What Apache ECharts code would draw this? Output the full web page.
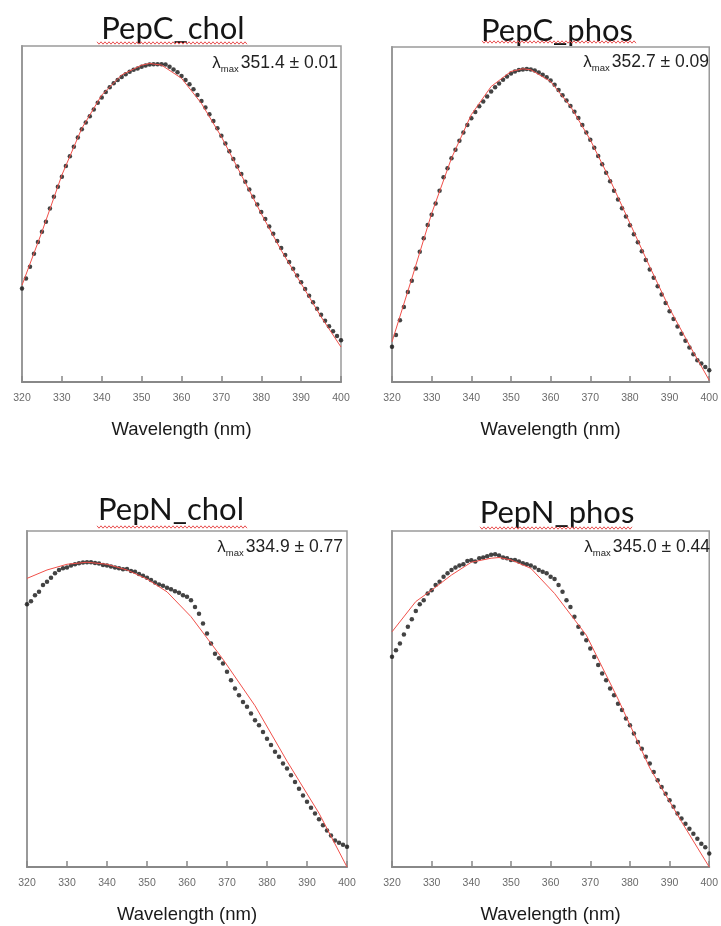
<!DOCTYPE html>
<html>
<head>
<meta charset="utf-8">
<script src="https://cdn.jsdelivr.net/npm/echarts@6/dist/echarts.min.js"></script>
<style>
  html, body { margin: 0; padding: 0; background: #fff; }
  #chart { width: 721px; height: 926px; }
</style>
</head>
<body>
<div id="chart"></div>
<script>
// wavelength of every measured point (nm)
const wavelength = [320,321,322,323,324,325,326,327,328,329,330,331,332,333,334,335,336,337,338,339,
  340,341,342,343,344,345,346,347,348,349,350,351,352,353,354,355,356,357,358,359,
  360,361,362,363,364,365,366,367,368,369,370,371,372,373,374,375,376,377,378,379,
  380,381,382,383,384,385,386,387,388,389,390,391,392,393,394,395,396,397,398,399,400];

// normalised fluorescence (0-100 of the plot height)
const pepCChol = [27.8,30.8,34.3,38.2,41.7,44.7,47.7,51.6,55.1,58.1,61.1,64.3,67.2,70.0,72.8,75.2,77.2,79.1,81.1,83.1,
  84.7,86.3,87.7,88.9,89.9,90.8,91.6,92.3,92.9,93.3,93.8,94.2,94.5,94.6,94.6,94.6,94.5,93.8,93.0,92.2,
  91.1,89.9,88.6,87.1,85.4,83.6,81.7,79.7,77.7,75.5,73.3,71.0,68.7,66.4,64.1,61.9,59.6,57.3,55.1,52.8,
  50.6,48.5,46.3,44.1,42.0,39.9,37.8,35.7,33.7,31.7,29.7,27.7,25.7,23.7,21.8,20.0,18.2,16.6,15.1,13.7,12.4];
const pepCPhos = [10.5,14.0,18.4,22.4,26.9,30.2,33.9,38.9,42.9,46.9,49.9,53.3,57.1,61.1,63.8,66.8,69.3,72.0,74.5,76.7,
  78.7,80.6,82.3,83.7,85.2,86.7,88.0,89.1,90.2,91.2,92.1,92.7,93.1,93.3,93.4,93.3,93.0,92.4,91.7,91.0,
  90.0,88.7,87.2,85.6,84.0,82.4,80.7,78.8,76.7,74.5,72.3,69.9,67.5,65.0,62.5,59.9,57.1,54.5,51.9,49.4,
  46.8,44.1,41.7,39.0,36.4,33.6,31.1,28.6,26.1,23.6,21.1,18.8,16.6,14.4,12.3,10.3,8.3,6.5,5.5,4.5,3.5];
const pepNChol = [78.2,79.1,80.9,81.9,83.9,84.9,86.1,87.4,88.4,88.9,89.1,89.7,90.1,90.4,90.6,90.7,90.7,90.5,90.3,89.9,
  89.7,89.4,89.1,88.9,88.6,88.7,88.1,87.9,87.2,86.7,86.1,85.4,84.7,84.1,83.7,83.1,82.7,82.1,81.6,80.9,
  80.4,79.4,77.4,75.4,72.5,69.5,66.5,63.5,62.1,60.6,58.1,55.6,53.1,51.1,49.1,47.7,45.7,43.7,42.2,40.2,
  38.2,36.3,34.3,32.8,30.8,29.3,27.3,25.3,23.3,21.3,19.4,17.6,15.9,14.2,12.4,10.9,9.4,7.9,7.2,6.6,6.0];
const pepNPhos = [62.6,64.5,66.5,69.2,71.5,73.7,76.2,78.2,79.4,81.4,82.4,83.9,84.9,86.4,87.4,88.4,89.1,89.7,90.1,91.1,
  91.3,90.9,91.9,92.1,92.5,92.9,93.1,92.7,92.1,91.9,91.4,91.4,90.9,90.4,90.1,89.7,89.1,88.4,87.9,87.4,
  86.4,85.7,83.9,81.9,79.4,77.4,74.5,71.5,69.5,67.5,65.0,62.5,60.1,57.6,55.6,53.1,51.1,48.6,46.7,44.2,
  42.2,39.7,37.2,35.2,32.8,30.8,28.3,25.8,23.8,21.8,19.9,17.9,15.9,14.4,12.9,11.4,9.9,8.4,6.9,5.9,4.0];

// fitted curves (red lines)
const fitCCholX = [320,325,330,335,340,345,350,352,355,360,365,370,375,380,385,390,395,400];
const fitCCholY = [28.8,44.7,61.6,75.5,85.4,91.4,94.3,94.8,94.3,90.4,82.9,73.0,61.6,50.1,39.2,29.3,19.4,10.4];
const fitCPhosX = [320,325,330,335,340,345,350,353,355,360,365,370,375,380,385,390,395,400];
const fitCPhosY = [12.0,30.9,50.3,66.8,79.8,88.2,92.7,93.5,93.2,89.7,82.3,72.3,60.3,47.4,34.4,21.9,11.0,0.5];
const fitNCholX = [320,325,330,335,340,345,350,355,361,369,377,385,393,400];
const fitNCholY = [85.9,88.4,90.1,90.7,90.1,88.4,85.7,81.9,74.5,61.8,48.0,31.5,16.0,0.0];
const fitNPhosX = [320,326,330,335,340,345,347,350,355,361,369,377,385,393,400];
const fitNPhosY = [70.0,79.0,82.4,86.9,90.7,91.9,92.1,91.4,88.9,81.4,69.0,50.0,29.5,13.5,0.0];

const panelNames = ['PepC_chol', 'PepC_phos', 'PepN_chol', 'PepN_phos'];
const lambdaMax = ['351.4', '352.7', '334.9', '345.0'];
const lambdaErr = ['0.01', '0.09', '0.77', '0.44'];
const xTicks = [320, 330, 340, 350, 360, 370, 380, 390, 400];

const dots = [pepCChol, pepCPhos, pepNChol, pepNPhos];
const fitX = [fitCCholX, fitCPhosX, fitNCholX, fitNPhosX];
const fitY = [fitCCholY, fitCPhosY, fitNCholY, fitNPhosY];

// panel boxes in pixels
const boxes = [
  { left: 22, top: 46, width: 319, height: 336 },
  { left: 392, top: 47, width: 319, height: 335 },
  { left: 27, top: 531, width: 320, height: 336 },
  { left: 392, top: 531, width: 318, height: 336 }
];
const titlePos = [[173, 29], [557, 31], [171, 510], [557, 513]];
const lambdaPos = [[338, 63], [709, 62], [343, 547], [710, 547]];
const squiggle = [[97, 248, 43], [482, 637, 42], [97, 247, 527], [480, 633, 528]];

let myChart = echarts.init(document.getElementById('chart'));

let grids = [], xAxes = [], yAxes = [], series = [], graphics = [];
boxes.forEach((b, i) => {
  grids.push(Object.assign({ show: true, borderColor: '#9a9a9a', borderWidth: 1.5, backgroundColor: '#fff' }, b));
  xAxes.push({
    gridIndex: i, type: 'value', min: xTicks[0], max: xTicks[xTicks.length - 1], interval: 10,
    name: 'Wavelength (nm)', nameLocation: 'middle', nameGap: 38,
    nameTextStyle: { fontFamily: 'Liberation Sans', fontSize: 18.5, color: '#1a1a1a' },
    axisLine: { lineStyle: { color: '#888', width: 2 } },
    axisTick: { inside: true, length: 6, lineStyle: { color: '#888', width: 1.5 } },
    axisLabel: { fontFamily: 'Liberation Sans', fontSize: 10.5, color: '#6a6a6a', margin: 11 },
    splitLine: { show: false }
  });
  yAxes.push({
    gridIndex: i, type: 'value', min: 0, max: 100,
    axisLine: { show: true, lineStyle: { color: '#999', width: 2 } },
    axisTick: { show: false }, axisLabel: { show: false }, splitLine: { show: false }
  });
  series.push({
    type: 'line', xAxisIndex: i, yAxisIndex: i, showSymbol: false, silent: true,
    lineStyle: { color: '#f0504a', width: 1 },
    data: fitX[i].map((x, k) => [x, fitY[i][k]])
  });
  series.push({
    type: 'scatter', xAxisIndex: i, yAxisIndex: i, symbol: 'circle', symbolSize: 4.5, silent: true,
    itemStyle: { color: '#141414' },
    data: wavelength.map((x, k) => [x, dots[i][k]])
  });

  // red wavy spell-check line under the title
  let pts = [], s = squiggle[i];
  for (let x = s[0], n = 0; x <= s[1]; x += 2, n++) pts.push([x, s[2] + (n % 2 ? 1.2 : -1.2)]);
  graphics.push({ type: 'polyline', z: 5, shape: { points: pts }, style: { stroke: '#e85050', lineWidth: 1, fill: null } });

  graphics.push({
    type: 'text', x: titlePos[i][0], y: titlePos[i][1], z: 4,
    style: { text: panelNames[i], font: '31px Lato', fill: '#151515', align: 'center', verticalAlign: 'middle' }
  });
  graphics.push({
    type: 'text', x: lambdaPos[i][0], y: lambdaPos[i][1], z: 6,
    style: {
      text: '{l|λ}{s|max}{v|' + lambdaMax[i] + ' ± ' + lambdaErr[i] + '}',
      align: 'right', verticalAlign: 'middle',
      rich: {
        l: { fontFamily: 'Liberation Sans', fontSize: 17, fill: '#222', lineHeight: 22, verticalAlign: 'middle' },
        s: { fontFamily: 'Liberation Sans', fontSize: 9.5, fill: '#222', lineHeight: 22, verticalAlign: 'bottom', padding: [0, 2, 0, 0] },
        v: { fontFamily: 'Liberation Sans', fontSize: 17.5, fill: '#222', lineHeight: 22, verticalAlign: 'middle' }
      }
    }
  });
});

myChart.setOption({
  animation: false,
  grid: grids,
  xAxis: xAxes,
  yAxis: yAxes,
  series: series,
  graphic: graphics
});
window.onresize = myChart.resize;
</script>
</body>
</html>
